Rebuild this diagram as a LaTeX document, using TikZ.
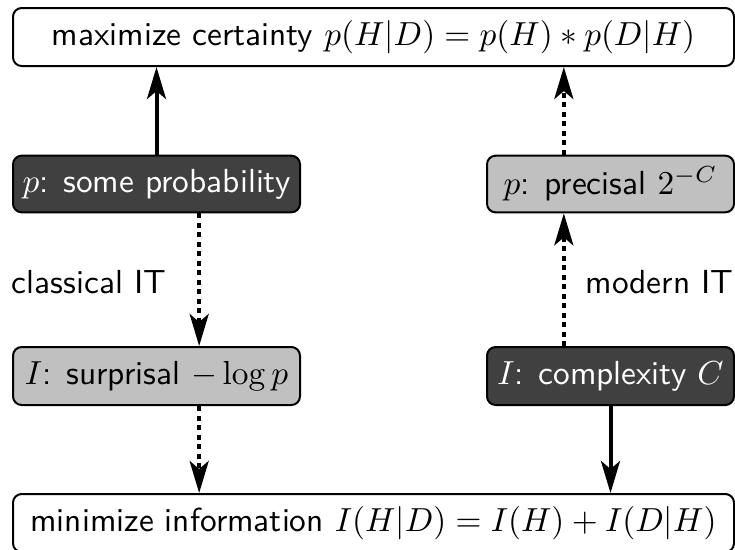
\documentclass[tikz,border=0pt]{standalone}
\usetikzlibrary{arrows.meta}
\definecolor{darkbox}{RGB}{64,64,64}
\definecolor{lightbox}{RGB}{192,192,192}
\begin{document}
\begin{tikzpicture}[x=0.3pt,y=-0.3pt,
  box/.style={draw=black,line width=0.6pt,rounded corners=2.6pt,inner sep=0pt,
    font=\sffamily\fontsize{10}{12}\selectfont,anchor=center},
  wide/.style={box,fill=white,minimum width=216.3pt,minimum height=17.4pt},
  dark/.style={box,fill=darkbox,text=white,minimum width=86.1pt,minimum height=17pt},
  light/.style={box,fill=lightbox,text=black,minimum width=86.1pt,minimum height=17pt},
  darkr/.style={dark,minimum width=74.1pt},
  lightr/.style={light,minimum width=74.1pt},
  conn/.style={line width=1.2pt,-{Stealth[length=9.6pt,width=5.7pt,inset=2.4pt]}},
  dconn/.style={conn,dash pattern=on 1.5pt off 1.35pt},
  lbl/.style={font=\sffamily\fontsize{10}{12}\selectfont,inner sep=0pt}]
\useasboundingbox (0,0) rectangle (735,549);
\node[wide] (top) at (373.5,37) {maximize certainty $p(H|D) = p(H) * p(D|H)$};
\node[dark] (prob) at (156.5,184) {$p$: some probability};
\node[lightr] (prec) at (610.5,184) {$p$: precisal $2^{-C}$};
\node[light,minimum height=17.4pt] (surp) at (156.5,376) {$I$: surprisal $-\log p$};
\node[darkr,minimum height=17.4pt] (comp) at (610.5,376) {$I$: complexity $C$};
\node[wide] (bot) at (373.5,523) {minimize information $I(H|D) = I(H) + I(D|H)$};
\node[lbl] (cl) at (89,282) {classical IT};
\node[lbl] (mo) at (659.5,282) {modern IT};
\draw[conn] (prob.north) -- (prob.north |- top.south);
\draw[dconn] ([xshift=12.8pt]prob.south) -- ([xshift=12.8pt]prob.south |- surp.north);
\draw[dconn] ([xshift=12.8pt]surp.south) -- ([xshift=12.8pt]surp.south |- bot.north);
\draw[conn] (comp.south) -- (comp.south |- bot.north);
\draw[dconn] ([xshift=-14pt]comp.north) -- ([xshift=-14pt]comp.north |- prec.south);
\draw[dconn] ([xshift=-14pt]prec.north) -- ([xshift=-14pt]prec.north |- top.south);
\end{tikzpicture}
\end{document}
